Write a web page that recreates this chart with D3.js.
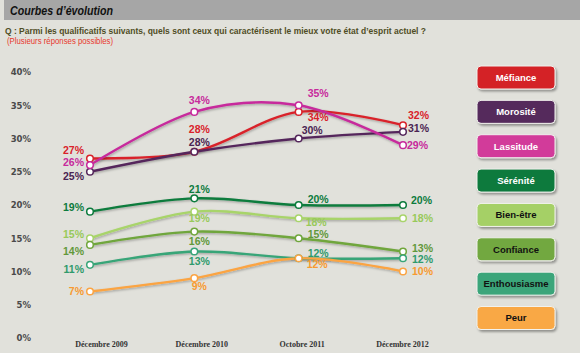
<!DOCTYPE html>
<html><head><meta charset="utf-8">
<script src="https://cdn.jsdelivr.net/npm/d3@7"></script>
<style>
html,body{margin:0;padding:0;background:#e1e1db;}
svg{display:block;}
</style></head>
<body>
<svg id="chart" width="580" height="353"></svg>
<script>
// ---- data ----
const periods = ["Décembre 2009", "Décembre 2010", "Octobre 2011", "Décembre 2012"];
const seriesNames = ["Méfiance", "Morosité", "Lassitude", "Sérénité", "Bien-être", "Confiance", "Enthousiasme", "Peur"];
const mefiance     = [27, 28, 34, 32];
const morosite     = [25, 28, 30, 31];
const lassitude    = [26, 34, 35, 29];
const serenite     = [19, 21, 20, 20];
const bienEtre     = [15, 19, 18, 18];
const confiance    = [14, 16, 15, 13];
const enthousiasme = [11, 13, 12, 12];
const peur         = [7, 9, 12, 10];
const yTicks = [0, 5, 10, 15, 20, 25, 30, 35, 40];

// ---- styles ----
const lineColors = ["#d9222a", "#55275c", "#c72a9c", "#0d7b3d", "#a8d46a", "#70a63c", "#38a578", "#fba443"];
const boxColors  = ["#d42027", "#552a5c", "#d23a9a", "#0e7a3e", "#a5d066", "#72a83f", "#3aa57a", "#f9a844"];
const boxText    = ["#fff", "#fff", "#fff", "#fff", "#111", "#111", "#111", "#111"];
const labelColors = ["#d9222a", "#4a2452", "#c72a9c", "#0d7b3d", "#98c95a", "#62983a", "#2f9a6c", "#f79a30"];
// label offsets [dx, dy] per series per period (layout only)
const labelOffsets = [
  [[-6,-8],[5,-23],[9,5],[5,-10]],
  [[-6,4],[5,-10],[3,-8],[5,-4]],
  [[-6,-3],[5,-12],[9,-12],[4,0]],
  [[-6,-4],[5,-9],[9,-6],[8,-5]],
  [[-6,-4],[5,7],[7,4],[9,0]],
  [[-6,6],[5,10],[9,-4],[9,-3]],
  [[-6,4],[5,10],[9,-5],[9,1]],
  [[-6,0],[5,8],[8,6],[9,0]]
];
const labelAnchor = ["end", "middle", "start", "start"];

const allValues = [mefiance, morosite, lassitude, serenite, bienEtre, confiance, enthousiasme, peur];
const series = seriesNames.map((n, i) => ({name: n, values: allValues[i], i}));

const svg = d3.select("#chart");
const defs = svg.append("defs");
const f = defs.append("filter").attr("id", "sh").attr("x", "-20%").attr("y", "-20%").attr("width", "140%").attr("height", "160%");
f.append("feDropShadow").attr("dx", 0.8).attr("dy", 1.2).attr("stdDeviation", 0.8).attr("flood-color", "#000").attr("flood-opacity", 0.3);
const f2 = defs.append("filter").attr("id", "bsh").attr("x", "-20%").attr("y", "-30%").attr("width", "140%").attr("height", "170%");
f2.append("feDropShadow").attr("dx", 1.5).attr("dy", 2).attr("stdDeviation", 1).attr("flood-color", "#000").attr("flood-opacity", 0.35);

// background
svg.append("rect").attr("width", 580).attr("height", 353).attr("fill", "#e1e1db");
// title bar
svg.append("rect").attr("x", 4).attr("y", 0).attr("width", 576).attr("height", 20).attr("fill", "#a6a6a6");
svg.append("text").attr("x", 10).attr("y", 14.5).text("Courbes d’évolution")
  .attr("font-family", "Liberation Sans, Arial, sans-serif").attr("font-weight", "bold").attr("font-style", "italic")
  .attr("font-size", 12.5).attr("textLength", 103).attr("lengthAdjust", "spacingAndGlyphs").attr("fill", "#111");
svg.append("text").attr("x", 5).attr("y", 33.5)
  .text("Q : Parmi les qualificatifs suivants, quels sont ceux qui caractérisent le mieux votre état d’esprit actuel ?")
  .attr("font-family", "Liberation Sans, Arial, sans-serif").attr("font-weight", "bold")
  .attr("font-size", 9.5).attr("textLength", 421).attr("lengthAdjust", "spacingAndGlyphs").attr("fill", "#4f4d24");
svg.append("text").attr("x", 7).attr("y", 43.5).text("(Plusieurs réponses possibles)")
  .attr("font-family", "Liberation Sans, Arial, sans-serif")
  .attr("font-size", 9).attr("textLength", 106).attr("lengthAdjust", "spacingAndGlyphs").attr("fill", "#e8372c");

// scales
const x = d3.scalePoint().domain(periods).range([90, 403]);
const xLab = d3.scalePoint().domain(periods).range([101, 402]);
const y = d3.scaleLinear().domain([0, 40]).range([338, 72]);

// y axis
const yAxis = d3.axisLeft(y).tickValues(yTicks).tickFormat(d => d + "%").tickSize(0).tickPadding(0);
const gy = svg.append("g").attr("transform", "translate(31,0)").call(yAxis);
gy.select(".domain").remove();
gy.selectAll("text").attr("font-family", "DejaVu Sans, Verdana, sans-serif").attr("font-weight", "bold")
  .attr("font-size", 8.5).attr("fill", "#4a4a4a").attr("dy", "0.35em");

// x axis
const xAxis = d3.axisBottom(xLab).tickSize(0).tickPadding(0);
const gx = svg.append("g").attr("transform", "translate(0,341)").call(xAxis);
gx.select(".domain").remove();
gx.selectAll("text").attr("font-family", "Liberation Serif, Times New Roman, serif").attr("font-weight", "bold")
  .attr("font-size", 8).attr("fill", "#333").attr("dy", "0.71em");

// lines
const line = d3.line().x((d, j) => x(periods[j])).y(d => y(d)).curve(d3.curveCardinal.tension(0));
const gl = svg.append("g");
series.forEach(s => {
  gl.append("path").datum(s.values).attr("d", line).attr("fill", "none")
    .attr("stroke", lineColors[s.i]).attr("stroke-width", 2.4).attr("filter", "url(#sh)");
});
// markers
series.forEach(s => {
  gl.selectAll(null).data(s.values).enter().append("circle")
    .attr("cx", (d, j) => x(periods[j])).attr("cy", d => y(d)).attr("r", 3.3)
    .attr("fill", "#fff").attr("stroke", lineColors[s.i]).attr("stroke-width", 1.5);
});
// labels
series.forEach(s => {
  gl.selectAll(null).data(s.values).enter().append("text")
    .attr("x", (d, j) => x(periods[j]) + labelOffsets[s.i][j][0])
    .attr("y", (d, j) => y(d) + labelOffsets[s.i][j][1])
    .attr("dy", "0.36em")
    .attr("text-anchor", (d, j) => labelAnchor[j])
    .attr("font-family", "Liberation Sans, Arial, sans-serif").attr("font-weight", "bold")
    .attr("font-size", 10.5).attr("fill", labelColors[s.i])
    .text(d => d + "%");
});

// legend
const yLeg = d3.scalePoint().domain(seriesNames).range([77.5, 318]);
const lg = svg.append("g");
series.forEach(s => {
  const g = lg.append("g").attr("transform", `translate(477,${yLeg(s.name) - 11.5})`);
  g.append("rect").attr("width", 78).attr("height", 23).attr("rx", 4)
    .attr("fill", boxColors[s.i]).attr("stroke", "#f2f2ee").attr("stroke-width", 1).attr("filter", "url(#bsh)");
  g.append("text").attr("x", 39).attr("y", 11.5).attr("dy", "0.35em").attr("text-anchor", "middle")
    .attr("font-family", "Liberation Sans, Arial, sans-serif").attr("font-weight", "bold")
    .attr("font-size", 9.5).attr("fill", boxText[s.i]).text(s.name);
});
</script>
</body></html>
